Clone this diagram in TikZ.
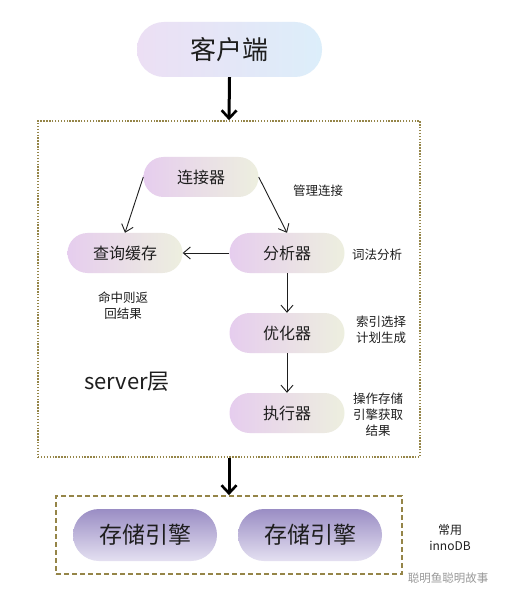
\documentclass[tikz,border=0pt]{standalone}
\usepackage{fontspec}
\setmainfont{Noto Sans CJK SC}
\usetikzlibrary{arrows.meta}
\definecolor{txt}{HTML}{1E1E1E}
\definecolor{cliL}{HTML}{ECDFF4}
\definecolor{cliR}{HTML}{DCEEFA}
\definecolor{pilL}{HTML}{E6CDEE}
\definecolor{pilR}{HTML}{EDEFDF}
\definecolor{stT}{HTML}{9A8DC4}
\definecolor{stB}{HTML}{E4E0F1}
\definecolor{boxc}{HTML}{958548}
\tikzset{
  pill/.style={rectangle, rounded corners=20pt, minimum width=115pt, minimum height=40pt,
    left color=pilL, right color=pilR, draw=none, text=txt, font=\fontsize{16}{18}\selectfont, inner sep=0pt},
  clientpill/.style={rectangle, rounded corners=27pt, minimum width=185pt, minimum height=55pt,
    left color=cliL, right color=cliR, draw=none, text=txt, font=\fontsize{26}{28}\selectfont, inner sep=0pt},
  storepill/.style={rectangle, rounded corners=26pt, minimum width=144pt, minimum height=52pt,
    shading=axis, top color=stT, bottom color=stB, draw=none, text=txt, font=\fontsize{23}{25}\selectfont, inner sep=0pt},
  lbl/.style={text=txt, font=\fontsize{12.5}{16}\selectfont, align=center, inner sep=0pt},
  thin arrow/.style={draw=txt, line width=0.9pt, -{Straight Barb[length=7pt,width=12pt]}},
  thick arrow/.style={draw=black, line width=3pt, -{Straight Barb[length=8pt,width=15pt,line width=2.6pt]}},
  serverbox/.style={draw=boxc, line width=1.6pt, dash pattern=on 1.4pt off 1.5pt, minimum width=382pt, minimum height=336pt, inner sep=0pt},
  storebox/.style={draw=boxc, line width=1.7pt, dash pattern=on 5pt off 3pt, minimum width=346pt, minimum height=78pt, inner sep=0pt}
}
\begin{document}
\begin{tikzpicture}[x=1pt,y=-1pt]
\useasboundingbox[fill=white] (0,0) rectangle (505,601);

\node[clientpill] (cli) at (229.5,49.5) {客户端};
\node[serverbox] (srv) at (229,289) {};
\node[storebox] (stb) at (229,535) {};

\node[pill] (con) at (201,177) {连接器};
\node[pill] (qc) at (125,253) {查询缓存};
\node[pill] (an) at (287,253) {分析器};
\node[pill] (op) at (287,333) {优化器};
\node[pill] (ex) at (287,413) {执行器};

\node[storepill] (s1) at (145,535) {存储引擎};
\node[storepill] (s2) at (310,535) {存储引擎};

\node[lbl] (l1) at (318,191) {管理连接};
\node[lbl] (l2) at (377,255) {词法分析};
\node[lbl] (l3) at (123,306) {命中则返\\回结果};
\node[lbl] (l4) at (381,330) {索引选择\\计划生成};
\node[lbl] (l5) at (378,415) {操作存储\\引擎获取\\结果};
\node[lbl, font=\fontsize{12}{16}\selectfont] (l6) at (450,538) {常用\\innoDB};
\node[text=txt, font=\fontsize{22}{24}\selectfont, inner sep=0pt] (srvl) at (127,382) {server层};
\node[text=black!40, font=\fontsize{11.5}{13}\selectfont, inner sep=0pt] (wm) at (448,578) {聪明鱼聪明故事};

\draw[thick arrow] (cli.south) -- (srv.north);
\draw[thick arrow] (srv.south) -- (stb.north);

\draw[thin arrow] (con.west) -- (qc.north);
\draw[thin arrow] (con.east) -- (an.north);
\draw[thin arrow] (an.west) -- (qc.east);
\draw[thin arrow] (an.south) -- (op.north);
\draw[thin arrow] (op.south) -- (ex.north);
\end{tikzpicture}
\end{document}
